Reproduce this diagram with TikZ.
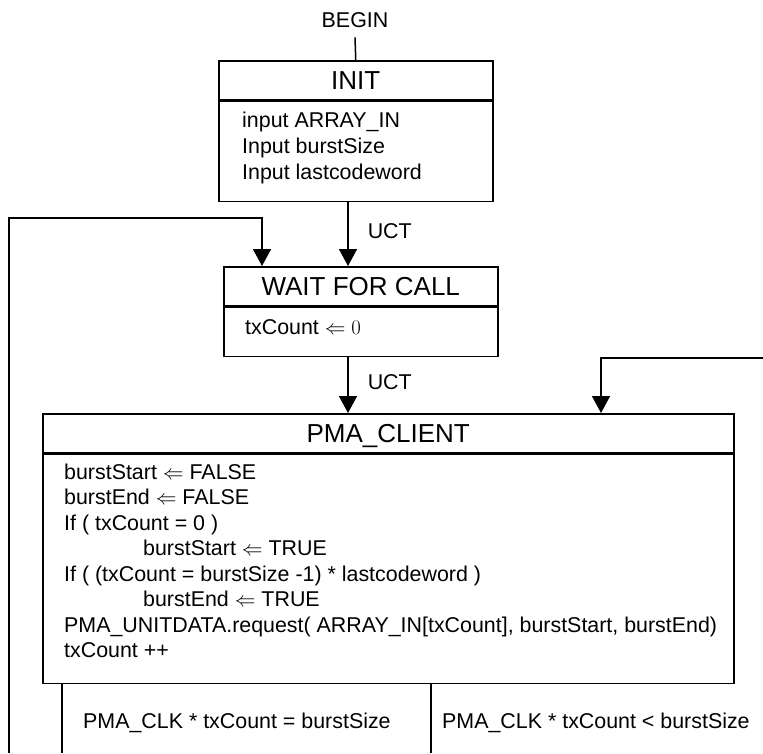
\documentclass[tikz,border=0pt]{standalone}
\usepackage{fontspec}
\setmainfont{Liberation Sans}
\usetikzlibrary{arrows.meta}

\tikzset{
  stateTitle/.style={draw, line width=1.5pt, inner sep=0pt, anchor=north west,
    font=\fontsize{26}{30}\selectfont, text height=18.6pt, text depth=0pt},
  stateBody/.style={draw, line width=1.5pt, inner sep=0pt, anchor=north west},
  txt/.style={anchor=base west, inner sep=0pt, font=\fontsize{21.4}{25.5}\selectfont},
  arr/.style={-{Triangle[width=18pt,length=17pt]}, line width=1.5pt},
  wire/.style={line width=1.5pt}
}

\begin{document}
\begin{tikzpicture}[x=1pt, y=-1pt]
  \useasboundingbox (0,0) rectangle (763,753);

  % entry point
  \node[txt, anchor=base] (begin) at (355,27) {BEGIN};

  % INIT state
  \node[stateTitle, minimum width=274pt, minimum height=39pt] (initT) at (218,60) {INIT};
  \node[stateBody, minimum width=274pt, minimum height=100pt] (initB) at (initT.south west) {};
  \node[txt] (initL1) at (242,127) {input ARRAY\_IN};
  \node[txt] (initL2) at (242,153) {Input burstSize};
  \node[txt] (initL3) at (242,179) {Input lastcodeword};

  % WAIT FOR CALL state
  \node[stateTitle, minimum width=274pt, minimum height=39pt] (waitT) at (223,266) {WAIT FOR CALL};
  \node[stateBody, minimum width=274pt, minimum height=49pt] (waitB) at (waitT.south west) {};
  \node[txt] (waitL1) at (245,334) {txCount $\Leftarrow 0$};

  % PMA_CLIENT state
  \node[stateTitle, minimum width=691pt, minimum height=39pt] (pmaT) at (42,413) {PMA\_CLIENT};
  \node[stateBody, minimum width=691pt, minimum height=229pt] (pmaB) at (pmaT.south west) {};
  \node[txt] (pmaL1) at (64,479)   {burstStart $\Leftarrow$ FALSE};
  \node[txt] (pmaL2) at (64,504.5) {burstEnd $\Leftarrow$ FALSE};
  \node[txt] (pmaL3) at (64,530)   {If ( txCount = 0 )};
  \node[txt] (pmaL4) at (143,555.5){burstStart $\Leftarrow$ TRUE};
  \node[txt] (pmaL5) at (64,581)   {If ( (txCount = burstSize -1) * lastcodeword )};
  \node[txt] (pmaL6) at (143,606.5){burstEnd $\Leftarrow$ TRUE};
  \node[txt] (pmaL7) at (64,632)   {PMA\_UNITDATA.request( ARRAY\_IN[txCount], burstStart, burstEnd)};
  \node[txt] (pmaL8) at (64,657.5) {txCount ++};

  % transition conditions below PMA_CLIENT
  \node[txt] (condEq) at (83,728)  {PMA\_CLK * txCount = burstSize};
  \node[txt] (condLt) at (442,728) {PMA\_CLK * txCount < burstSize};

  % helper coordinates
  \coordinate (uctx)   at (348,0);
  \coordinate (loopL)  at (9,753);
  \coordinate (loopTop) at (262,218);
  \coordinate (loopR)  at (763,358);
  \coordinate (loopRx) at (601,358);
  \coordinate (cellA)  at (62,753);
  \coordinate (cellB)  at (431,753);

  % connectors
  \draw[wire] ([yshift=-10pt]begin.south) -- (initT.north);
  \draw[arr] (initB.south -| uctx) -- (waitT.north -| uctx)
    node[txt, pos=0.45, anchor=west, xshift=19pt] (uct1) {UCT};
  \draw[arr] (waitB.south -| uctx) -- (pmaT.north -| uctx)
    node[txt, pos=0.45, anchor=west, xshift=19pt] (uct2) {UCT};
  \draw[arr] (loopL) |- (loopTop) -- (waitT.north -| loopTop);
  \draw[arr] (loopR) -- (loopRx) -- (pmaT.north -| loopRx);
  \draw[wire] (pmaB.south -| cellA) -- (cellA);
  \draw[wire] (pmaB.south -| cellB) -- (cellB);
\end{tikzpicture}
\end{document}
